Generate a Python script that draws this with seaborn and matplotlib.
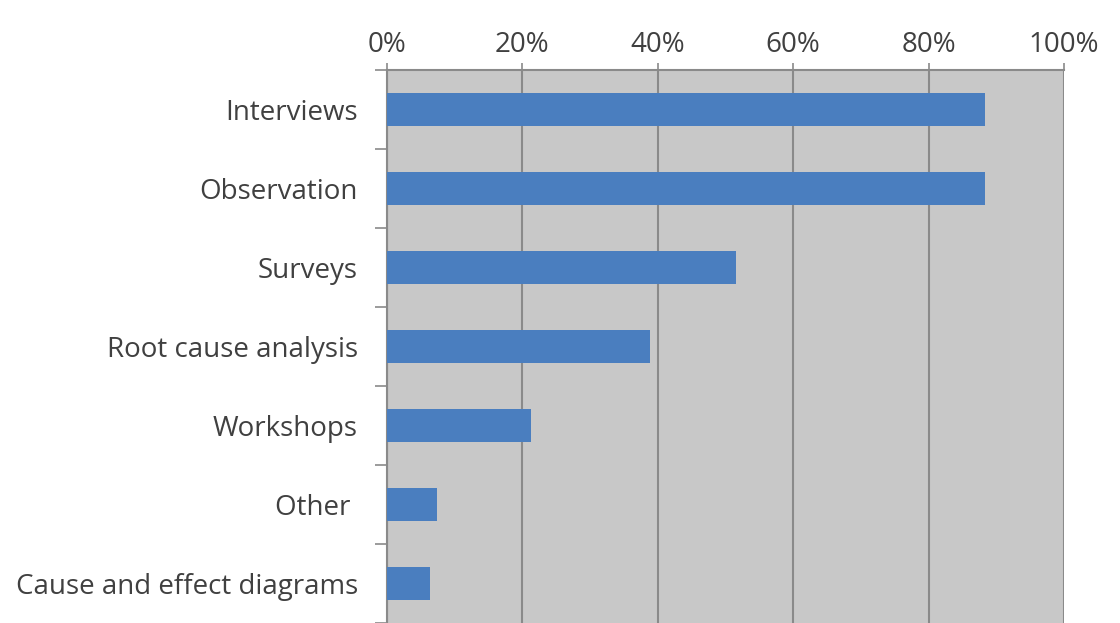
import matplotlib
matplotlib.use("Agg")
import matplotlib.pyplot as plt
import seaborn as sns
import pandas as pd
import numpy as np
from matplotlib.ticker import FixedLocator, PercentFormatter

methods = ["Interviews", "Observation", "Surveys", "Root cause analysis",
           "Workshops", "Other ", "Cause and effect diagrams"]
shares = [88.3, 88.3, 51.6, 38.8, 21.2, 7.4, 6.4]
x_ticks = [0, 20, 40, 60, 80, 100]

df = pd.DataFrame({"method": methods, "share": shares})

sns.set_theme(style="white")
plt.rcParams["font.family"] = ["Open Sans", "DejaVu Sans"]

fig = plt.figure(figsize=(11.2, 6.23), dpi=100)
ax = fig.add_axes([387 / 1120, 0.0, (1064 - 387) / 1120, 1 - 70 / 623])
ax.set_facecolor("#c8c8c8")

sns.barplot(data=df, x="share", y="method", orient="h", color="#4a7ebf",
            width=0.42, saturation=1, linewidth=0, ax=ax, zorder=3)

ax.set_xlim(0, 100)
ax.set_ylim(len(methods) - 0.5, -0.5)
ax.set_xlabel("")
ax.set_ylabel("")

# x axis on top, gridlines behind bars
ax.xaxis.tick_top()
ax.set_xticks(x_ticks)
ax.xaxis.set_major_formatter(PercentFormatter(decimals=0))
ax.grid(axis="x", color="#8a8a8a", linewidth=1.5, zorder=0)
ax.set_axisbelow(True)
ax.tick_params(axis="x", which="major", top=True, length=5, width=1.2,
               color="#8a8a8a", labelsize=20, labelcolor="#404040", pad=3)

# category labels centred, tick marks on the boundaries between categories
ax.tick_params(axis="y", which="major", left=False, labelsize=20,
               labelcolor="#404040", pad=15)
ax.yaxis.set_minor_locator(FixedLocator(np.arange(-0.5, len(methods), 1.0)))
ax.tick_params(axis="y", which="minor", left=True, length=9, width=1.2,
               color="#8a8a8a")

for side in ["right", "bottom"]:
    ax.spines[side].set_visible(False)
ax.spines["left"].set_color("#8a8a8a")
ax.spines["left"].set_linewidth(1.5)
ax.spines["top"].set_color("#8a8a8a")
ax.spines["top"].set_linewidth(1.5)

fig.savefig("out.png", dpi=100)
